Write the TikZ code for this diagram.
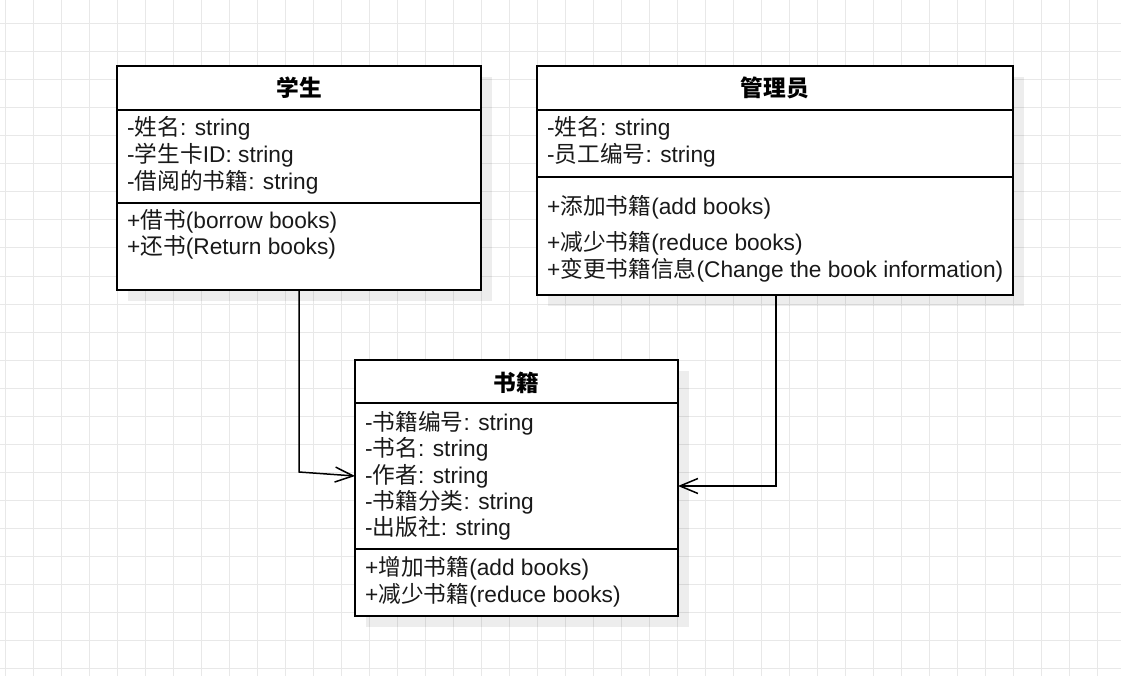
\documentclass[tikz,border=0pt]{standalone}
\usepackage{fontspec}
\setmainfont{Liberation Sans}
\newfontfamily\cjk{Noto Sans CJK SC}
\usetikzlibrary{arrows.meta}
\newcommand\zh[1]{{\cjk #1}}
\definecolor{gridc}{RGB}{232,232,232}
\begin{document}
\begin{tikzpicture}[x=1pt,y=-1pt,
  font=\fontsize{22.7}{26}\selectfont,
  umlbox/.style={draw=black,line width=1.5pt,fill=white,anchor=north west,inner sep=0pt,outer sep=0pt},
  shadowbox/.style={fill=black,opacity=0.07},
  divider/.style={draw=black,line width=1.5pt},
  txt/.style={anchor=west,inner sep=0pt,text=black!90},
  ttl/.style={inner sep=0pt,text=black},
  conn/.style={draw=black,line width=1.5pt,-{Straight Barb[length=18pt,width=15pt]}}]
\useasboundingbox (0,0) rectangle (1121,676);
\fill[white] (0,0) rectangle (1121,676);
\foreach \i in {5,33,...,1121} \draw[gridc,line width=1pt] (\i,0) -- (\i,676);
\foreach \j in {24,52,...,676} \draw[gridc,line width=1pt] (0,\j) -- (1121,\j);
% shadows
\fill[shadowbox] (128,77) rectangle (492,301);
\fill[shadowbox] (548,77) rectangle (1024,306);
\fill[shadowbox] (366,371) rectangle (689,627);
% boxes
\node[umlbox,minimum width=364pt,minimum height=224pt] (stu) at (117,66) {};
\node[umlbox,minimum width=476pt,minimum height=229pt] (adm) at (537,66) {};
\node[umlbox,minimum width=323pt,minimum height=256pt] (book) at (355,360) {};
% dividers
\draw[divider] (117,110) -- (481,110);
\draw[divider] (117,203) -- (481,203);
\draw[divider] (537,110) -- (1013,110);
\draw[divider] (537,177) -- (1013,177);
\draw[divider] (355,403) -- (678,403);
\draw[divider] (355,549) -- (678,549);
% student
\node[ttl] (stuT) at (299,88) {\cjk\bfseries 学生};
\node[txt] (s1) at (127,128) {-\zh{姓名}: string};
\node[txt] (s2) at (127,155) {-\zh{学生卡}ID: string};
\node[txt] (s3) at (127,182) {-\zh{借阅的书籍}: string};
\node[txt] (s4) at (127,221) {+\zh{借书}(borrow books)};
\node[txt] (s5) at (127,247) {+\zh{还书}(Return books)};
% admin
\node[ttl] (admT) at (775,88) {\cjk\bfseries 管理员};
\node[txt] (a1) at (547,128) {-\zh{姓名}: string};
\node[txt] (a2) at (547,155) {-\zh{员工编号}: string};
\node[txt] (a3) at (547,207) {+\zh{添加书籍}(add books)};
\node[txt] (a4) at (547,243) {+\zh{减少书籍}(reduce books)};
\node[txt] (a5) at (547,270) {+\zh{变更书籍信息}(Change the book information)};
% book
\node[ttl] (bookT) at (516.5,383) {\cjk\bfseries 书籍};
\node[txt] (b1) at (365,423) {-\zh{书籍编号}: string};
\node[txt] (b2) at (365,449) {-\zh{书名}: string};
\node[txt] (b3) at (365,476) {-\zh{作者}: string};
\node[txt] (b4) at (365,502) {-\zh{书籍分类}: string};
\node[txt] (b5) at (365,528) {-\zh{出版社}: string};
\node[txt] (b6) at (365,568) {+\zh{增加书籍}(add books)};
\node[txt] (b7) at (365,595) {+\zh{减少书籍}(reduce books)};
% connectors
\coordinate (c1) at (299,472);
\coordinate (c2) at (776,486);
\draw[conn] (stu.south) -- (c1) -- ([yshift=-116pt]book.north west);
\draw[conn] ([xshift=1pt]adm.south) -- (c2) -- ([yshift=-126pt]book.north east);
\end{tikzpicture}
\end{document}
